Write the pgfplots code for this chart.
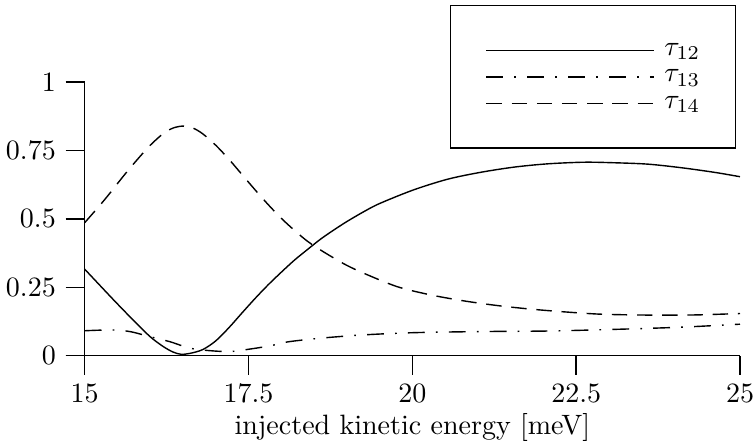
\documentclass[border=0pt]{standalone}
\usepackage{pgfplots}
\pgfplotsset{compat=1.18}
\begin{document}
\begin{tikzpicture}
\begin{axis}[
  name=ax,
  scale only axis,
  width=234pt, height=97.7pt,
  xmin=15, xmax=25, ymin=0, ymax=1,
  axis lines=left,
  axis line style={-, line width=0.5pt, shorten <=-6.8pt},
  tick align=outside,
  major tick length=6.8pt,
  tick style={line width=0.5pt, black},
  xtick={15,17.5,20,22.5,25},
  ytick={0,0.25,0.5,0.75,1},
  xlabel={injected kinetic energy [meV]},
  xlabel style={yshift=3pt},
  clip=false,
  legend style={
    at={(rel axis cs:0.9939,1.2818)}, anchor=north east,
    draw=black, line width=0.5pt,
    inner xsep=12.5pt, inner ysep=12.7pt,
    nodes={inner sep=0pt, text height=5pt, text depth=1.5pt},
    row sep=3pt,
    column sep=3.3pt,
  },
  legend cell align=left,
  legend image code/.code={\draw[#1] (0pt,0pt) -- (60pt,0pt);},
]
\addplot[black, line width=0.5pt, smooth] coordinates {
(15,0.316) (15.44,0.204) (15.74,0.130) (16.0,0.069) (16.2,0.033) (16.35,0.013)
(16.47,0.005) (16.6,0.008) (16.8,0.022) (17.0,0.054) (17.2,0.102) (17.4,0.156)
(17.6,0.209) (17.8,0.259) (18.0,0.305) (18.2,0.349) (18.4,0.388) (18.6,0.426)
(18.8,0.459) (19.0,0.490) (19.25,0.525) (19.5,0.556) (20.02,0.606) (20.54,0.645)
(21.04,0.670) (21.55,0.689) (22.06,0.701) (22.62,0.707) (23.08,0.705) (23.59,0.700)
(24.1,0.687) (24.61,0.670) (25,0.654)
};
\addlegendentry{$\tau_{12}$}
\addplot[black, line width=0.5pt, smooth, dash pattern=on 6pt off 4pt on 0.6pt off 4pt] coordinates {
(15,0.091) (15.41,0.094) (15.69,0.088) (16.0,0.069) (16.3,0.051) (16.61,0.027)
(16.92,0.018) (17.22,0.015) (17.52,0.024) (17.83,0.036) (18.09,0.050) (18.44,0.060)
(18.75,0.067) (19.26,0.076) (20.02,0.084) (21.04,0.088) (22.06,0.090) (23.08,0.096)
(24.1,0.104) (25,0.115)
};
\addlegendentry{$\tau_{13}$}
\addplot[black, line width=0.5pt, smooth, dash pattern=on 5.5pt off 3.5pt] coordinates {
(15,0.486) (15.3,0.569) (15.6,0.659) (15.8,0.716) (16.0,0.769) (16.2,0.812)
(16.35,0.832) (16.5,0.839) (16.65,0.832) (16.8,0.811) (17.0,0.769) (17.2,0.718)
(17.4,0.662) (17.6,0.606) (17.8,0.552) (18.0,0.502) (18.2,0.458) (18.4,0.418)
(18.6,0.386) (18.8,0.357) (19.0,0.330) (19.26,0.301) (19.77,0.252) (20.28,0.222)
(20.79,0.200) (21.30,0.183) (21.81,0.170) (22.32,0.160) (22.83,0.152) (23.34,0.149)
(23.85,0.148) (24.36,0.149) (25,0.154)
};
\addlegendentry{$\tau_{14}$}
\end{axis}
\pgfresetboundingbox
\useasboundingbox ([xshift=-30.25pt, yshift=-30.8pt]ax.south west) rectangle ([xshift=5.36pt, yshift=29.3pt]ax.north east);
\end{tikzpicture}
\end{document}
